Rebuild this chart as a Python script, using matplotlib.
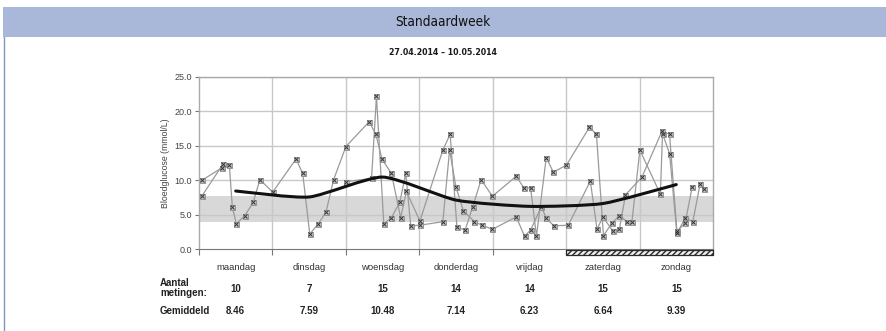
import numpy as np
import matplotlib
matplotlib.use("Agg")
import matplotlib.pyplot as plt
from matplotlib.patches import Rectangle, PathPatch
from matplotlib.path import Path
import matplotlib.transforms as mtransforms

# --- data -------------------------------------------------------------
days = ["maandag", "dinsdag", "woensdag", "donderdag", "vrijdag", "zaterdag", "zondag"]
counts = [10, 7, 15, 14, 14, 15, 15]
means = [8.46, 7.59, 10.48, 7.14, 6.23, 6.64, 9.39]

# week 1 readings: hour of the week (0 = Monday 00:00), glucose in mmol/L
week1_hours = [0.9, 7.9, 9.9, 10.9, 12.2, 15.0, 17.7, 19.9,
               24.1, 31.7, 33.9, 36.2, 39.0, 41.5, 44.0,
               48.0, 55.6, 57.8, 59.8, 62.9, 65.9, 67.8,
               72.2, 79.7, 82.1, 84.3, 87.0, 89.5, 92.2,
               95.9, 103.7, 106.2, 108.4, 110.3, 113.5, 115.8,
               120.1, 127.6, 129.9, 132.2, 135.0, 137.4, 139.9, 141.5,
               144.1, 150.8, 151.5, 153.8, 156.2, 159.0, 161.4, 163.8, 165.2]
week1_values = [7.7, 12.4, 12.3, 6.1, 3.7, 4.9, 6.8, 10.1,
                8.3, 13.1, 11.0, 2.2, 3.7, 5.4, 10.1,
                14.9, 18.5, 16.7, 13.1, 11.0, 4.6, 8.4,
                4.1, 14.4, 16.7, 3.2, 2.8, 6.2, 10.1,
                7.7, 10.6, 8.9, 8.9, 1.9, 13.3, 11.2,
                12.2, 17.7, 16.7, 2.0, 3.8, 4.9, 4.0, 4.0,
                14.4, 8.0, 16.8, 13.9, 2.3, 4.6, 4.0, 9.5, 8.7]

# week 2 readings (no readings from Monday morning until Wednesday)
week2_hours_a = [0.9, 7.4]
week2_values_a = [10.0, 11.8]
week2_hours_b = [48.0, 56.4, 58.0, 60.4, 62.9, 65.6, 67.6, 69.2,
                 72.2, 79.7, 81.9, 84.0, 86.4, 90.0, 92.5,
                 95.9, 103.7, 106.4, 108.4, 111.9, 113.5, 116.0,
                 120.7, 127.9, 130.1, 132.0, 135.2, 137.4, 139.4,
                 144.8, 151.3, 153.8, 156.2, 158.9, 161.2]
week2_values_b = [9.8, 10.3, 22.2, 3.7, 4.6, 6.8, 11.0, 3.4,
                  3.5, 4.0, 14.4, 9.0, 5.6, 4.0, 3.5,
                  2.9, 4.7, 1.9, 2.8, 6.2, 4.5, 3.4,
                  3.5, 9.9, 2.9, 4.7, 2.7, 2.9, 7.9,
                  10.5, 17.1, 16.7, 2.6, 3.8, 9.1]

target_low, target_high = 4.0, 7.8
yticks = [0.0, 5.0, 10.0, 15.0, 20.0, 25.0]


def smooth_path(xs, ys, tension=1 / 10):
    """Cubic Bezier path through the given points (Catmull-Rom style handles)."""
    pts = np.column_stack([xs, ys]).astype(float)
    verts = [pts[0]]
    codes = [Path.MOVETO]
    n = len(pts)
    for i in range(n - 1):
        p0 = pts[max(i - 1, 0)]
        p1 = pts[i]
        p2 = pts[i + 1]
        p3 = pts[min(i + 2, n - 1)]
        c1 = p1 + (p2 - p0) * tension
        c2 = p2 - (p3 - p1) * tension
        verts += [c1, c2, p2]
        codes += [Path.CURVE4] * 3
    return Path(verts, codes)


# --- figure -----------------------------------------------------------
W, H = 886, 331
fig = plt.figure(figsize=(W / 100, H / 100), dpi=100)
fig.patch.set_facecolor("white")

plain = ["Liberation Sans", "DejaVu Sans"]
narrow = ["DejaVu Sans"]

# header band
fig.patches.append(Rectangle((3 / W, 1 - 37 / H), 1 - 3 / W, 30 / H,
                             transform=fig.transFigure, facecolor="#a9b7d9",
                             edgecolor="none"))
fig.lines.append(plt.Line2D([3.5 / W, 3.5 / W], [0, 1 - 37 / H],
                            transform=fig.transFigure, color="#8394c4", lw=1.0))
fig.text(0.5, 1 - 22 / H, "Standaardweek", ha="center", va="center",
         fontsize=9.8, family=narrow, fontstretch="condensed", color="#111111")
fig.text(0.5, 1 - 52.5 / H, "27.04.2014 \u2013 10.05.2014", ha="center", va="center",
         fontsize=6.3, family=narrow, fontstretch="condensed", fontweight="bold",
         color="#1a1a1a")

# plot area
x0, x1 = 199 / W, 713 / W
y_top, y_bot = 1 - 77 / H, 1 - 249.3 / H
ax = fig.add_axes([x0, y_bot, x1 - x0, y_top - y_bot])
ax.set_xlim(0, 168)
ax.set_ylim(0, 25)

ax.axhspan(target_low, target_high, color="#d8d8d8", zorder=0.5, lw=0)
for y in yticks[1:]:
    ax.axhline(y, color="#c8c8c8", lw=1.0, zorder=0.6)
for d in range(1, 7):
    ax.axvline(24 * d, color="#c8c8c8", lw=1.0, zorder=0.6)

line_kw = dict(color="#9a9a9a", lw=0.9, marker="s", ms=3.6, mfc="#c4c4c4",
               mec="#8a8a8a", mew=0.6, zorder=2)
ax.plot(week1_hours, week1_values, **line_kw)
ax.plot(week2_hours_a, week2_values_a, **line_kw)
ax.plot(week2_hours_b, week2_values_b, **line_kw)
for hx, vy in [(week1_hours, week1_values), (week2_hours_a, week2_values_a),
               (week2_hours_b, week2_values_b)]:
    ax.plot(hx, vy, ls="none", marker="x", ms=2.4, mew=0.7, color="#333333", zorder=3)

# daily mean as a smoothed line through the day midpoints
mid_hours = [12 + 24 * i for i in range(len(days))]
ax.add_patch(PathPatch(smooth_path(mid_hours, means), facecolor="none",
                       edgecolor="#111111", lw=2.2, zorder=4, capstyle="round"))

# weekend marker below the axis
trans = mtransforms.blended_transform_factory(ax.transData, ax.transAxes)
ax.add_patch(Rectangle((120, -0.032), 48, 0.03, transform=trans, clip_on=False,
                       facecolor="#f0f0f0", edgecolor="#2a2a2a", hatch="//////",
                       lw=0.9, zorder=5))

for side in ["top", "right", "left"]:
    ax.spines[side].set_color("#aaaaaa")
    ax.spines[side].set_linewidth(1.0)
ax.spines["bottom"].set_color("#777777")

ax.set_yticks(yticks)
ax.set_yticklabels([f"{v:.1f}" for v in yticks], fontsize=6.5, family=plain,
                   color="#444444")
ax.set_xticks([24 * d for d in range(8)])
ax.set_xticklabels([])
ax.tick_params(axis="y", length=3, width=0.8, color="#777777", pad=2)
ax.tick_params(axis="x", length=4, width=0.8, color="#777777")
ax.set_ylabel("Bloedglucose (mmol/L)", fontsize=6.3, family=plain, color="#444444",
              labelpad=3)

# day names and summary table
for i, day in enumerate(days):
    xf = x0 + (x1 - x0) * (mid_hours[i] / 168)
    fig.text(xf, 1 - 267 / H, day, ha="center", va="center", fontsize=6.8,
             family=plain, color="#333333")
    fig.text(xf, 1 - 288.5 / H, str(counts[i]), ha="center", va="center",
             fontsize=7, family=plain, fontweight="bold", color="#222222")
    fig.text(xf, 1 - 311.5 / H, f"{means[i]:.2f}", ha="center", va="center",
             fontsize=7, family=plain, fontweight="bold", color="#222222")

fig.text(160 / W, 1 - 283.5 / H, "Aantal", ha="left", va="center", fontsize=7,
         family=plain, fontweight="bold", color="#222222")
fig.text(160 / W, 1 - 293.5 / H, "metingen:", ha="left", va="center", fontsize=7,
         family=plain, fontweight="bold", color="#222222")
fig.text(160 / W, 1 - 311.5 / H, "Gemiddeld", ha="left", va="center", fontsize=7,
         family=plain, fontweight="bold", color="#222222")

fig.savefig("out.png", dpi=100, facecolor="white")
